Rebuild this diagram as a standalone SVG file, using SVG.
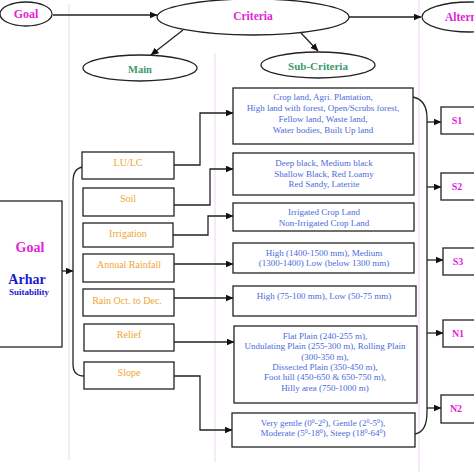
<svg xmlns="http://www.w3.org/2000/svg" width="474" height="472" viewBox="0 0 474 472">
<defs>
<marker id="ah" markerWidth="8" markerHeight="7" refX="7.5" refY="3.5" orient="auto" markerUnits="userSpaceOnUse">
<path d="M0,0 L8,3.5 L0,7 Z" fill="#111"/>
</marker>
<style>
.sh{fill:#fff;stroke:#222;stroke-width:1.3}
.el{fill:#fff;stroke:#222;stroke-width:1.3}
.c{fill:none;stroke:#222;stroke-width:1.3}
.ca{fill:none;stroke:#222;stroke-width:1.3;marker-end:url(#ah)}
.g{stroke:#eed3f2;stroke-width:1;fill:none}
.tb{font-family:"Liberation Serif",serif;font-weight:bold;text-anchor:middle}
.mg{fill:#e21fd9}
.gr{fill:#3b9a6b}
.or{font-family:"Liberation Serif",serif;font-size:10px;fill:#f0a633;text-anchor:middle}
.bl{font-family:"Liberation Serif",serif;font-size:9px;fill:#4b6bdc;text-anchor:middle}
</style>
</defs>
<rect width="474" height="472" fill="#fff"/>
<g id="guides">
<line class="g" x1="69" y1="4" x2="69" y2="460"/>
<line class="g" x1="215" y1="53" x2="215" y2="462"/>
<line class="g" x1="419" y1="0" x2="419" y2="472"/>
</g>
<g id="connectors">
<line class="ca" x1="53" y1="15" x2="157" y2="15"/>
<line class="ca" x1="349" y1="17" x2="421" y2="17"/>
<line class="ca" x1="183" y1="30" x2="151" y2="55"/>
<line class="ca" x1="301" y1="33" x2="318" y2="51"/>
<line class="ca" x1="62" y1="271" x2="73" y2="271"/>
<path class="c" d="M83,167 Q73,168 73,182 L73,364 Q73,376 84,376"/>
<path class="ca" d="M174,165 L200,165 L200,113 L233,113"/>
<path class="ca" d="M174,205 L210,205 L210,169 L233,169"/>
<path class="ca" d="M173,235 L208,235 L208,216 L233,216"/>
<line class="ca" x1="174" y1="264" x2="233" y2="264"/>
<line class="ca" x1="174" y1="298" x2="233" y2="298"/>
<line class="ca" x1="174" y1="342" x2="234" y2="342"/>
<path class="ca" d="M174,376 L200,376 L200,430 L232,430"/>
<path class="c" d="M413,97 Q427,100 427,118 L427,412 Q427,432 415,434"/>
<line class="ca" x1="427" y1="122" x2="441" y2="122"/>
<line class="ca" x1="427" y1="187" x2="441" y2="187"/>
<line class="ca" x1="427" y1="260" x2="443" y2="260"/>
<line class="ca" x1="427" y1="333" x2="443" y2="333"/>
<line class="ca" x1="427" y1="408" x2="441" y2="408"/>
</g>
<g id="goal-top"><ellipse class="el" cx="26" cy="14" rx="26" ry="12"/><text class="tb mg" x="26" y="18" font-size="12">Goal</text></g>
<g id="criteria"><ellipse class="el" cx="253" cy="17" rx="96" ry="18"/><text class="tb mg" x="253" y="20" font-size="11.5">Criteria</text></g>
<g id="alternatives"><ellipse class="el" cx="470" cy="17" rx="48" ry="15"/><text class="tb mg" x="445" y="21" font-size="11.5" style="text-anchor:start">Alternatives</text></g>
<g id="main"><ellipse class="el" cx="140" cy="68" rx="57" ry="13"/><text class="tb gr" x="140" y="73" font-size="10.5">Main</text></g>
<g id="subcriteria"><ellipse class="el" cx="318" cy="65" rx="57" ry="13"/><text class="tb gr" x="318" y="70" font-size="11">Sub-Criteria</text></g>
<g id="goal-box"><rect class="sh" x="-5" y="201" width="67" height="146"/>
<text class="tb mg" x="30" y="252" font-size="14">Goal</text>
<text class="tb" x="27" y="284" font-size="14" fill="#1919cc">Arhar</text>
<text class="tb" x="29" y="295" font-size="9" fill="#1919cc">Suitability</text></g>
<g id="lulc"><rect class="sh" x="82" y="152" width="92" height="27"/><text class="or" x="128" y="166">LU/LC</text></g>
<g id="soil"><rect class="sh" x="83" y="188" width="91" height="28"/><text class="or" x="128" y="202">Soil</text></g>
<g id="irrigation"><rect class="sh" x="83" y="223" width="90" height="24"/><text class="or" x="128" y="237">Irrigation</text></g>
<g id="rainfall"><rect class="sh" x="83" y="254" width="91" height="28"/><text class="or" x="129" y="268">Annual Rainfall</text></g>
<g id="rainoct"><rect class="sh" x="83" y="289" width="91" height="27"/><text class="or" x="127" y="304">Rain Oct. to Dec.</text></g>
<g id="relief"><rect class="sh" x="84" y="324" width="90" height="27"/><text class="or" x="129" y="338">Relief</text></g>
<g id="slope"><rect class="sh" x="84" y="362" width="90" height="27"/><text class="or" x="129" y="376">Slope</text></g>
<g id="sub-lulc"><rect class="sh" x="233" y="88" width="180" height="56"/>
<text class="bl" x="323" y="100">Crop land, Agri. Plantation,</text>
<text class="bl" x="323" y="111">High land with forest, Open/Scrubs forest,</text>
<text class="bl" x="323" y="122">Fellow land, Waste land,</text>
<text class="bl" x="323" y="133">Water bodies, Built Up land</text></g>
<g id="sub-soil"><rect class="sh" x="233" y="153" width="181" height="42"/>
<text class="bl" x="324" y="166">Deep black, Medium black</text>
<text class="bl" x="324" y="177">Shallow Black, Red Loamy</text>
<text class="bl" x="324" y="187">Red Sandy, Laterite</text></g>
<g id="sub-irr"><rect class="sh" x="233" y="203" width="181" height="28"/>
<text class="bl" x="324" y="215">Irrigated Crop Land</text>
<text class="bl" x="324" y="226">Non-Irrigated Crop Land</text></g>
<g id="sub-rain"><rect class="sh" x="233" y="243" width="181" height="30"/>
<text class="bl" x="324" y="256">High (1400-1500 mm), Medium</text>
<text class="bl" x="324" y="266">(1300-1400) Low (below 1300 mm)</text></g>
<g id="sub-rainoct"><rect class="sh" x="233" y="286" width="183" height="30"/>
<text class="bl" x="324" y="299">High (75-100 mm), Low (50-75 mm)</text></g>
<g id="sub-relief"><rect class="sh" x="234" y="326" width="183" height="77"/>
<text class="bl" x="325" y="339">Flat Plain (240-255 m),</text>
<text class="bl" x="325" y="349">Undulating Plain (255-300 m), Rolling Plain</text>
<text class="bl" x="325" y="360">(300-350 m),</text>
<text class="bl" x="325" y="370">Dissected Plain (350-450 m),</text>
<text class="bl" x="325" y="380">Foot hill (450-650 &amp; 650-750 m),</text>
<text class="bl" x="325" y="391">Hilly area (750-1000 m)</text></g>
<g id="sub-slope"><rect class="sh" x="232" y="413" width="183" height="34"/>
<text class="bl" x="323" y="426">Very gentle (0<tspan dy="-3" font-size="6">0</tspan><tspan dy="3">-2</tspan><tspan dy="-3" font-size="6">0</tspan><tspan dy="3">), Gentle (2</tspan><tspan dy="-3" font-size="6">0</tspan><tspan dy="3">-5</tspan><tspan dy="-3" font-size="6">0</tspan><tspan dy="3">),</tspan></text>
<text class="bl" x="323" y="436">Moderate (5<tspan dy="-3" font-size="6">0</tspan><tspan dy="3">-18</tspan><tspan dy="-3" font-size="6">0</tspan><tspan dy="3">), Steep (18</tspan><tspan dy="-3" font-size="6">0</tspan><tspan dy="3">-64</tspan><tspan dy="-3" font-size="6">0</tspan><tspan dy="3">)</tspan></text></g>
<g id="s1"><rect class="sh" x="441" y="107" width="34" height="27"/><text class="tb mg" x="457" y="124" font-size="10">S1</text></g>
<g id="s2"><rect class="sh" x="441" y="173" width="34" height="27"/><text class="tb mg" x="457" y="190" font-size="10">S2</text></g>
<g id="s3"><rect class="sh" x="443" y="248" width="34" height="27"/><text class="tb mg" x="458" y="265" font-size="10">S3</text></g>
<g id="n1"><rect class="sh" x="443" y="320" width="34" height="27"/><text class="tb mg" x="458" y="337" font-size="10">N1</text></g>
<g id="n2"><rect class="sh" x="441" y="395" width="34" height="28"/><text class="tb mg" x="456" y="412" font-size="10">N2</text></g>
</svg>
